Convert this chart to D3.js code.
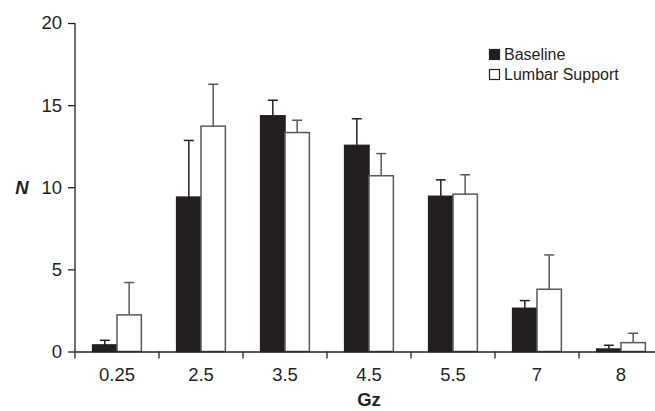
<!DOCTYPE html>
<html>
<head>
<meta charset="utf-8">
<script src="https://cdn.jsdelivr.net/npm/d3@7"></script>
<style>
	body { margin: 0; background: #fff; }
	#canvas { width: 655px; height: 411px; }
	text { font-family: Arial, 'Liberation Sans', Helvetica, sans-serif; fill: #231f20; }
</style>
</head>
<body>
<div id="canvas"></div>
<script>
// data
const categories = ['0.25', '2.5', '3.5', '4.5', '5.5', '7', '8'];
const series = ['Baseline', 'Lumbar Support'];
const baseline = [0.4, 9.4, 14.35, 12.55, 9.45, 2.63, 0.15];
const baselineErr = [0.28, 3.45, 0.95, 1.62, 1.0, 0.47, 0.23];
const lumbar = [2.23, 13.72, 13.33, 10.7, 9.58, 3.79, 0.54];
const lumbarErr = [1.97, 2.55, 0.75, 1.35, 1.18, 2.09, 0.57];
const yTicks = [0, 5, 10, 15, 20];

function Chart(){
	let W = 655, H = 411, M = {t:23, r:-8, b:59.5, l:75};

	function exports(selection){
		let w = W - M.l - M.r, h = H - M.t - M.b;

		let rows = categories.map((c, i) => ({
			cat: c,
			vals: [
				{key: series[0], v: baseline[i], e: baselineErr[i]},
				{key: series[1], v: lumbar[i], e: lumbarErr[i]}
			]
		}));

		let x0 = d3.scaleBand().domain(categories).range([0, w])
			.paddingInner(0.42).paddingOuter(0.21);
		let x1 = d3.scaleBand().domain(series).range([0, x0.bandwidth()]);
		let y = d3.scaleLinear().domain([0, 20]).range([h, 0]);

		let fill = d3.scaleOrdinal().domain(series).range(['#231f20', '#ffffff']);
		let stroke = d3.scaleOrdinal().domain(series).range(['#231f20', '#58595b']);

		let svg = selection.append('svg')
			.attr('width', W)
			.attr('height', H);

		let plot = svg.append('g')
			.attr('transform', 'translate(' + M.l + ',' + M.t + ')');

		// bars
		let groups = plot.selectAll('.grp').data(rows)
			.enter().append('g').attr('class', 'grp')
			.attr('transform', d => 'translate(' + x0(d.cat) + ',0)');

		// error bars first so the bar outline sits over the stem
		let err = groups.selectAll('.err').data(d => d.vals)
			.enter().append('g').attr('class', 'err')
			.style('stroke', d => stroke(d.key))
			.style('stroke-width', 1.5);
		err.append('line')
			.attr('x1', d => x1(d.key) + x1.bandwidth() / 2)
			.attr('x2', d => x1(d.key) + x1.bandwidth() / 2)
			.attr('y1', d => y(d.v))
			.attr('y2', d => y(d.v + d.e));
		err.append('line')
			.attr('x1', d => x1(d.key) + x1.bandwidth() / 2 - 5)
			.attr('x2', d => x1(d.key) + x1.bandwidth() / 2 + 5)
			.attr('y1', d => y(d.v + d.e))
			.attr('y2', d => y(d.v + d.e));

		groups.selectAll('rect').data(d => d.vals)
			.enter().append('rect')
			.attr('x', d => x1(d.key))
			.attr('y', d => y(d.v))
			.attr('width', x1.bandwidth())
			.attr('height', d => h - y(d.v))
			.style('fill', d => fill(d.key))
			.style('stroke', d => stroke(d.key))
			.style('stroke-width', 1.5);

		// y axis
		let yAxis = plot.append('g').attr('class', 'y axis')
			.call(d3.axisLeft(y).tickValues(yTicks).tickSize(7).tickPadding(6).tickSizeOuter(0));
		yAxis.select('.domain').attr('d', 'M0,0V' + (h + 7));

		// x axis, ticks on the band edges
		let xAxis = plot.append('g').attr('class', 'x axis')
			.attr('transform', 'translate(0,' + h + ')')
			.call(d3.axisBottom(x0).tickSize(0).tickPadding(16).tickSizeOuter(0));
		xAxis.selectAll('.edge').data(categories.slice(1))
			.enter().append('line').attr('class', 'edge')
			.attr('x1', d => x0(d) - x0.step() * x0.paddingInner() / 2)
			.attr('x2', d => x0(d) - x0.step() * x0.paddingInner() / 2)
			.attr('y1', 0).attr('y2', 7);

		svg.selectAll('.axis path, .axis line')
			.style('stroke', '#231f20')
			.style('stroke-width', 1.3);
		svg.selectAll('.axis text')
			.style('font-size', '18.5px')
			.style('fill', '#231f20')
			.style('font-family', 'Arial, "Liberation Sans", sans-serif');

		// axis titles
		svg.append('text')
			.attr('x', 22).attr('y', 194)
			.attr('text-anchor', 'middle')
			.style('font-size', '18.5px')
			.style('font-weight', 'bold')
			.style('font-style', 'italic')
			.text('N');

		svg.append('text')
			.attr('x', M.l + x0('4.5') + x0.bandwidth() / 2).attr('y', 406)
			.attr('text-anchor', 'middle')
			.style('font-size', '18.5px')
			.style('font-weight', 'bold')
			.text('Gz');

		// legend
		let leg = svg.append('g').attr('transform', 'translate(489,49)');
		let li = leg.selectAll('g').data(series)
			.enter().append('g')
			.attr('transform', (d, i) => 'translate(0,' + i * 20 + ')');
		li.append('rect')
			.attr('x', 0.5).attr('y', 0.5)
			.attr('width', 10).attr('height', 10)
			.style('fill', d => fill(d))
			.style('stroke', '#231f20')
			.style('stroke-width', 1.2);
		li.append('text')
			.attr('x', 15).attr('y', 11)
			.style('font-size', '16px')
			.text(d => d);
	}
	return exports;
}

d3.select('#canvas').call(Chart());
</script>
</body>
</html>
